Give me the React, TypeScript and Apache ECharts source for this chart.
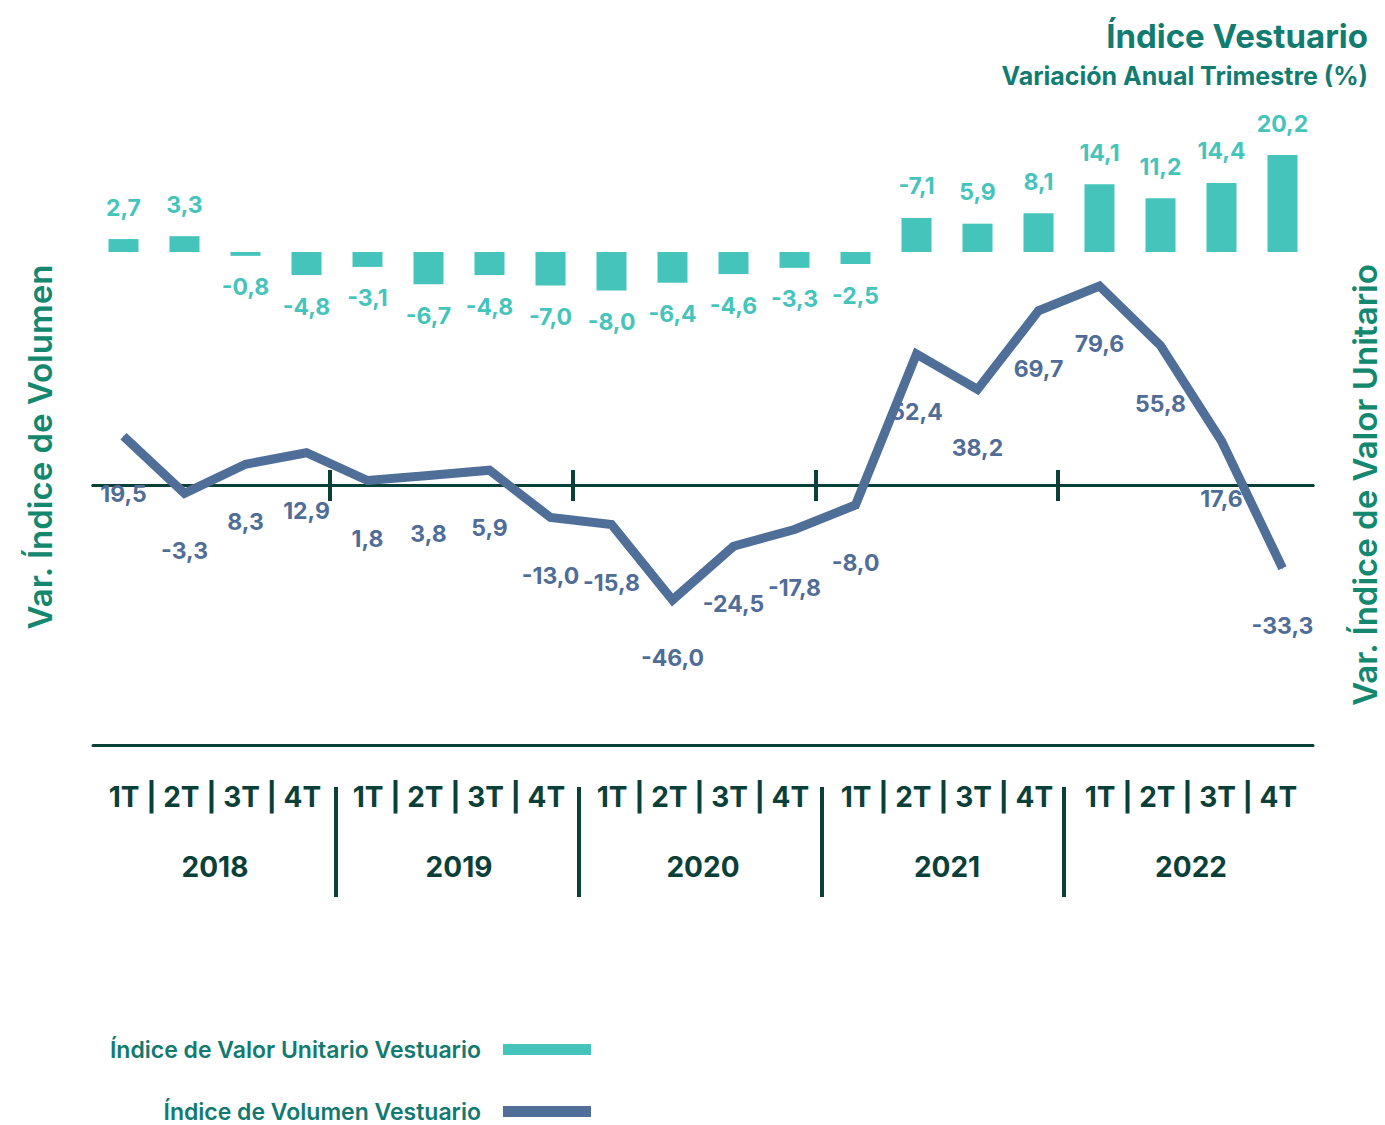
import React, { useEffect, useRef } from "react";
import * as echarts from "echarts";

const years = ["2018", "2019", "2020", "2021", "2022"];
const quarterTicks = ["1T", "2T", "3T", "4T"];
const quarters = years.flatMap((y) => quarterTicks.map((q) => `${q} ${y}`));

// Índice de Valor Unitario Vestuario (bars)
const unitValue = [2.7, 3.3, -0.8, -4.8, -3.1, -6.7, -4.8, -7.0, -8.0, -6.4, -4.6, -3.3, -2.5, 7.1, 5.9, 8.1, 14.1, 11.2, 14.4, 20.2];
// printed labels as shown in the source
const unitValueLabels = ["2,7", "3,3", "-0,8", "-4,8", "-3,1", "-6,7", "-4,8", "-7,0", "-8,0", "-6,4", "-4,6", "-3,3", "-2,5", "-7,1", "5,9", "8,1", "14,1", "11,2", "14,4", "20,2"];
// Índice de Volumen Vestuario (line)
const volume = [19.5, -3.3, 8.3, 12.9, 1.8, 3.8, 5.9, -13.0, -15.8, -46.0, -24.5, -17.8, -8.0, 52.4, 38.2, 69.7, 79.6, 55.8, 17.6, -33.3];
const yearBoundaries = [4, 8, 12, 16];

const DARK = "#0b4038";
const TEAL = "#45c4bc";
const BLUE = "#4f6f98";
const TITLE = "#137c70";
const FONT = "Inter, 'Noto Sans', sans-serif";

const fmt = (v: number) => v.toFixed(1).replace(".", ",");

export default function App() {
  const ref = useRef<HTMLDivElement>(null);
  useEffect(() => {
    if (!ref.current) return;
    const chart = echarts.init(ref.current, undefined, { renderer: "svg" });
    const legendText = {
      fontSize: 23,
      fontWeight: 600,
      color: "#127a6f",
      fontFamily: FONT,
      lineHeight: 22,
      padding: [0, 17, 0, 0],
    };
    const option: any = {
      animation: false,
      backgroundColor: "#ffffff",
      textStyle: { fontFamily: FONT },
      title: [
        {
          text: "Índice Vestuario",
          right: 17,
          top: 19,
          padding: 0,
          textStyle: { fontSize: 33, fontWeight: 700, color: TITLE, fontFamily: FONT },
        },
        {
          text: "Variación Anual Trimestre (%)",
          right: 17,
          top: 63,
          padding: 0,
          textStyle: { fontSize: 25, fontWeight: 700, color: TITLE, fontFamily: FONT },
        },
      ],
      legend: [
        {
          data: [{ name: "Índice de Valor Unitario Vestuario", icon: "rect" }],
          right: 794,
          top: 1038,
          padding: 0,
          align: "right",
          itemWidth: 88,
          itemHeight: 11,
          selectedMode: false,
          textStyle: legendText,
        },
        {
          data: [{ name: "Índice de Volumen Vestuario", icon: "rect" }],
          right: 794,
          top: 1100,
          padding: 0,
          align: "right",
          itemWidth: 88,
          itemHeight: 11,
          selectedMode: false,
          textStyle: legendText,
        },
      ],
      grid: { left: 93, right: 72, top: 120, bottom: 380, containLabel: false },
      xAxis: [
        {
          type: "category",
          data: quarters,
          position: "bottom",
          axisLine: { onZero: false, lineStyle: { color: DARK, width: 3 } },
          axisTick: { show: false },
          axisLabel: { show: false },
        },
        {
          type: "category",
          data: years,
          position: "bottom",
          axisLine: { show: false, onZero: false },
          axisTick: { show: false },
          axisLabel: {
            interval: 0,
            hideOverlap: false,
            margin: 38,
            formatter: () => quarterTicks.join(" | "),
            fontSize: 28,
            fontWeight: 700,
            color: DARK,
            fontFamily: FONT,
          },
        },
        {
          type: "category",
          data: years,
          position: "bottom",
          axisLine: { show: false, onZero: false },
          axisTick: { show: false },
          axisLabel: { interval: 0, margin: 108, fontSize: 28, fontWeight: 700, color: DARK, fontFamily: FONT },
        },
        {
          type: "value",
          min: 0,
          max: 20.1,
          position: "bottom",
          offset: 42,
          axisLine: { show: false, onZero: false },
          axisTick: { show: true, customValues: yearBoundaries, length: 110, lineStyle: { color: DARK, width: 4 } },
          axisLabel: { show: false },
          splitLine: { show: false },
        },
        {
          type: "value",
          min: 0.1,
          max: 20.2,
          position: "bottom",
          axisLine: { show: true, onZero: true, onZeroAxisIndex: 1, lineStyle: { color: DARK, width: 3 } },
          axisTick: { show: true, inside: true, customValues: yearBoundaries, length: 15, lineStyle: { color: DARK, width: 4 } },
          axisLabel: { show: false },
          splitLine: { show: false },
        },
        {
          type: "value",
          min: 0.1,
          max: 20.2,
          position: "bottom",
          axisLine: { show: true, onZero: true, onZeroAxisIndex: 1, lineStyle: { color: DARK, width: 3 } },
          axisTick: { show: true, inside: false, customValues: yearBoundaries, length: 16, lineStyle: { color: DARK, width: 4 } },
          axisLabel: { show: false },
          splitLine: { show: false },
        },
      ],
      yAxis: [
        { type: "value", min: -102.7, max: 27.5, show: false, splitLine: { show: false } },
        { type: "value", min: -104, max: 146, show: false, splitLine: { show: false } },
      ],
      graphic: [
        {
          type: "text",
          x: 40,
          y: 447,
          rotation: Math.PI / 2,
          style: {
            text: "Var. Índice de Volumen",
            fill: "#14876f",
            font: `600 33px ${FONT}`,
            align: "center",
            verticalAlign: "middle",
          },
        },
        {
          type: "text",
          x: 1365,
          y: 485,
          rotation: Math.PI / 2,
          style: {
            text: "Var. Índice de Valor Unitario",
            fill: "#14876f",
            font: `600 33px ${FONT}`,
            align: "center",
            verticalAlign: "middle",
          },
        },
      ],
      series: [
        {
          name: "Índice de Valor Unitario Vestuario",
          type: "bar",
          xAxisIndex: 0,
          yAxisIndex: 0,
          data: unitValue,
          barWidth: 30,
          color: TEAL,
          itemStyle: { color: TEAL },
          label: {
            show: true,
            position: "outside",
            distance: 20,
            formatter: (p: any) => unitValueLabels[p.dataIndex],
            fontSize: 23,
            fontWeight: 700,
            color: TEAL,
            fontFamily: FONT,
          },
        },
        {
          name: "Índice de Volumen Vestuario",
          type: "line",
          xAxisIndex: 0,
          yAxisIndex: 1,
          data: volume,
          color: BLUE,
          symbol: "circle",
          symbolSize: 1,
          itemStyle: { color: BLUE },
          lineStyle: { color: BLUE, width: 9, join: "miter", cap: "butt" },
          label: {
            show: true,
            position: "bottom",
            distance: 46,
            formatter: (p: any) => fmt(p.value),
            fontSize: 23,
            fontWeight: 700,
            color: "#4f6d96",
            fontFamily: FONT,
          },
          z: 3,
        },
      ],
    };
    chart.setOption(option);
    return () => chart.dispose();
  }, []);
  return (
    <div
      ref={ref}
      style={{ position: "absolute", left: 0, top: 0, width: 1385, height: 1125 }}
    />
  );
}
